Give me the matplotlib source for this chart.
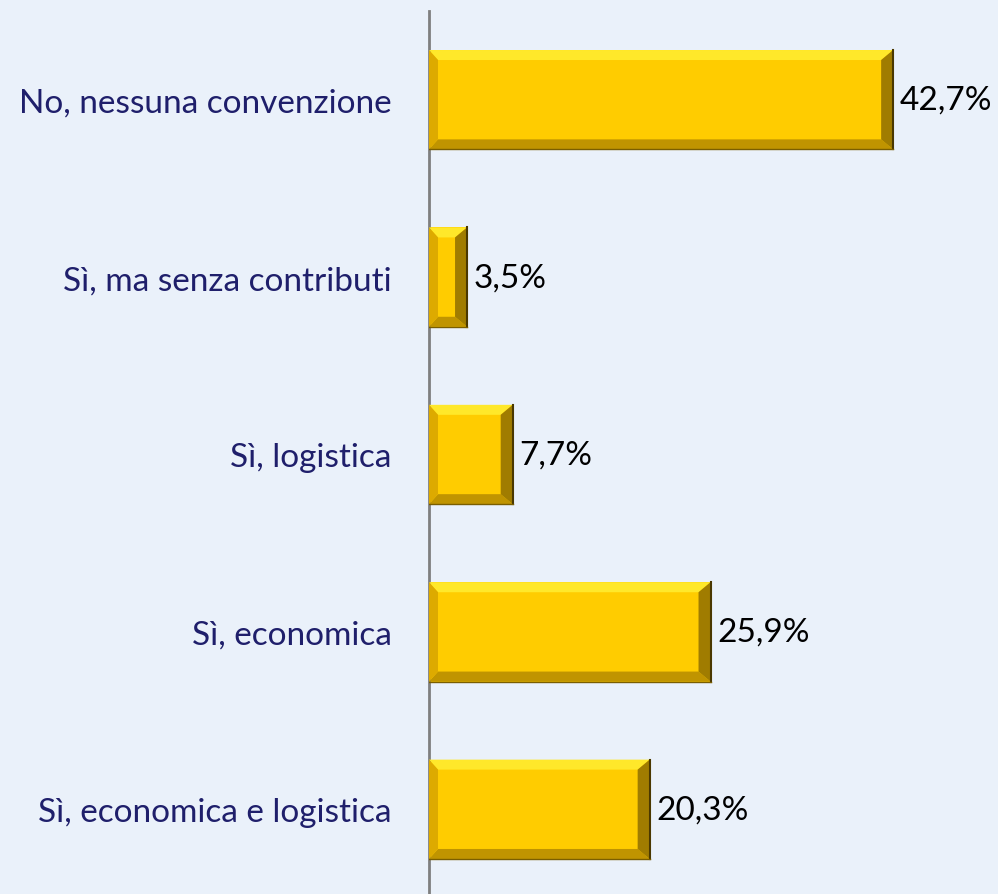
"""Horizontal bar chart: convenzioni (bevelled bars)."""

import matplotlib
matplotlib.use("Agg")
import matplotlib.pyplot as plt
from matplotlib.patches import Polygon

categories = [
    "No, nessuna convenzione",
    "Sì, ma senza contributi",
    "Sì, logistica",
    "Sì, economica",
    "Sì, economica e logistica",
]
values = [42.7, 3.5, 7.7, 25.9, 20.3]
value_labels = ["42,7%", "3,5%", "7,7%", "25,9%", "20,3%"]

BG = "#EAF1FA"
BAR = "#FFCC00"
W, H = 998, 895

fig = plt.figure(figsize=(W / 100, H / 100), dpi=100, facecolor=BG)
ax = fig.add_axes([429 / W, -4 / H, 569 / W, 887 / H])
ax.set_facecolor(BG)

ypos = list(range(len(categories)))
bars = ax.barh(ypos, values, height=0.56, color=BAR, edgecolor="none", zorder=2)
ax.set_xlim(0, 569 / 10.87)
ax.set_ylim(len(categories) - 0.5, -0.5)

# bevel sizes in pixels, converted to data units
px_x = (569 / 10.87) / 569
px_y = len(categories) / 887
for bar in bars:
    x0, y0 = bar.get_x(), bar.get_y()
    x1, y1 = x0 + bar.get_width(), y0 + bar.get_height()
    dx = min(9 * px_x, bar.get_width() / 2.5)
    dy = 10 * px_y
    dxr = min(12 * px_x, bar.get_width() / 2.5)
    # top (y0 is the upper edge because axis is inverted)
    ax.add_patch(Polygon([(x0, y0), (x1, y0), (x1 - dxr, y0 + dy), (x0 + dx, y0 + dy)],
                         color="#FFE82A", zorder=3, lw=0))
    ax.add_patch(Polygon([(x0, y1), (x1, y1), (x1 - dxr, y1 - dy), (x0 + dx, y1 - dy)],
                         color="#C09400", zorder=3, lw=0))
    ax.add_patch(Polygon([(x0, y0), (x0 + dx, y0 + dy), (x0 + dx, y1 - dy), (x0, y1)],
                         color="#DDAA00", zorder=3, lw=0))
    ax.add_patch(Polygon([(x1, y0), (x1 - dxr, y0 + dy), (x1 - dxr, y1 - dy), (x1, y1)],
                         color="#A07C00", zorder=3, lw=0))
    ax.plot([x1, x1], [y0, y1], color="#4A3800", lw=1.5, zorder=4)
    ax.plot([x0, x1], [y1, y1], color="#7A5E00", lw=1, zorder=4)

for y, v, lab in zip(ypos, values, value_labels):
    ax.text(v + 7 * px_x, y, lab, va="center", ha="left", fontsize=24,
            family="Lato", color="black")

ax.set_yticks(ypos)
ax.set_yticklabels(categories, family="Lato", fontsize=24, color="#1F1F6B")
ax.tick_params(axis="y", length=0, pad=27)
ax.set_xticks([])
for side in ("top", "right", "bottom"):
    ax.spines[side].set_visible(False)
ax.spines["left"].set_color("#7F7F7F")
ax.spines["left"].set_linewidth(2)

fig.savefig("out.png", dpi=100, facecolor=BG)
